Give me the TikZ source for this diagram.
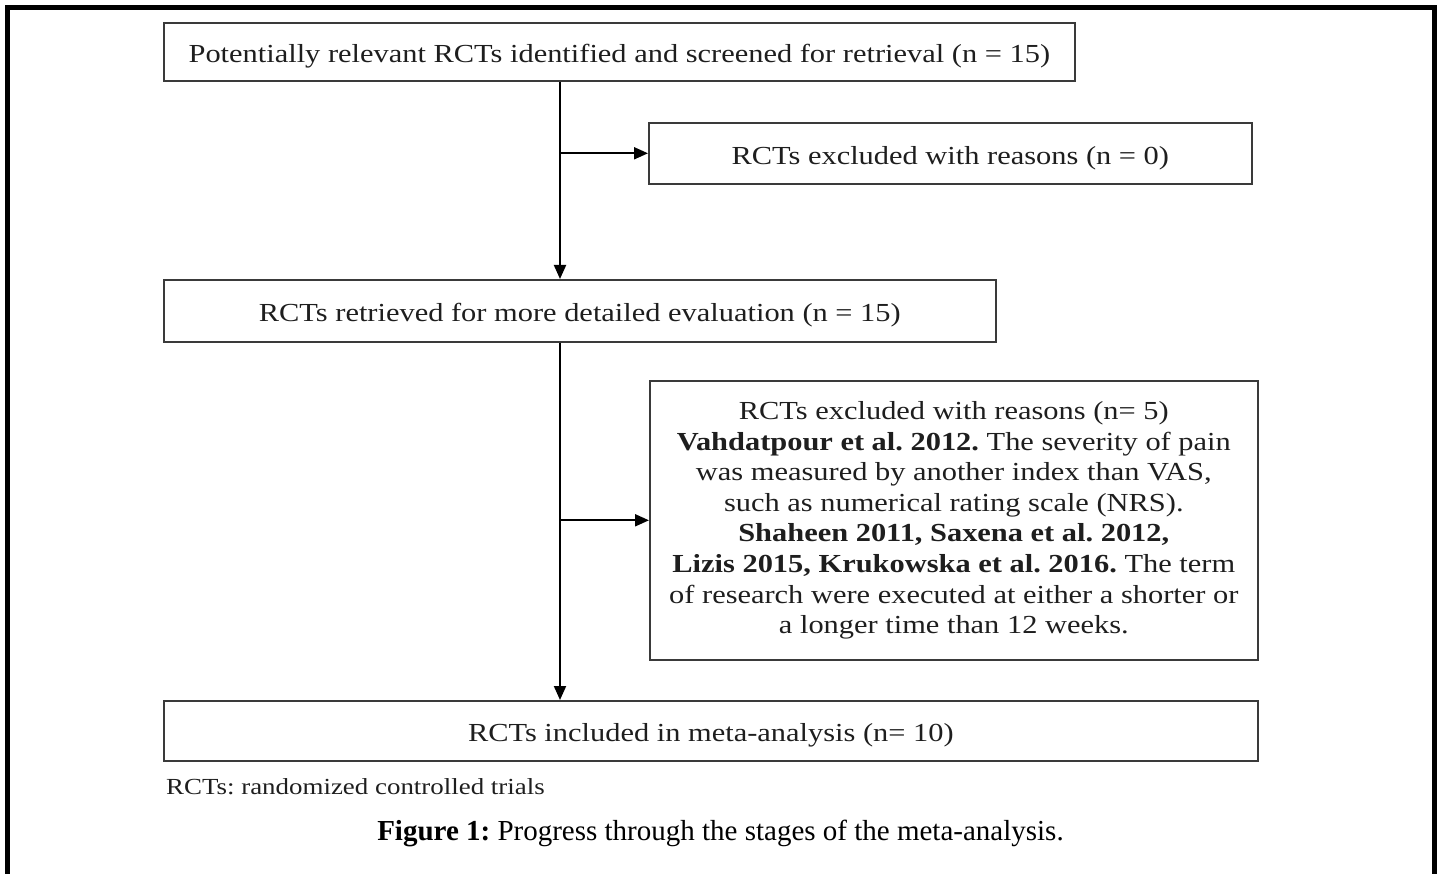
\documentclass[tikz,border=0pt]{standalone}
\usepackage{fontspec}
\setmainfont{Liberation Serif}
\newfontfamily\stagefont{Liberation Serif}[FakeStretch=1.17]
\usepackage{tikz}
\usetikzlibrary{positioning,arrows.meta}
\definecolor{flowline}{HTML}{3A3A3A}
\definecolor{flowink}{HTML}{1E1E1E}

\begin{document}
\frenchspacing
\begin{tikzpicture}[
    x=1pt, y=-1pt,
    >={Triangle[length=14pt,width=12pt]},
    stagebox/.style={draw=flowline, line width=1.6pt, anchor=north west, align=center,
        inner sep=0pt, text=flowink, font=\stagefont\fontsize{26}{30.6}\selectfont},
    linebox/.style={stagebox, text height=25pt, text depth=3pt},
    flow/.style={->, line width=2pt, draw=black}
]
\useasboundingbox (0,0) rectangle (1441,874);
% page frame, open at the bottom
\draw[line width=5pt] (7,874) -- (7,7.5) -- (1434.5,7.5) -- (1434.5,874);

\node[linebox, minimum width=911pt, minimum height=58pt] (screened) at (163,22)
  {Potentially relevant RCTs identified and screened for retrieval (n = 15)};
\node[linebox, minimum width=603pt, minimum height=61pt] (exclnone) at (648,122)
  {RCTs excluded with reasons (n = 0)};
\node[linebox, minimum width=832pt, minimum height=62pt] (retrieved) at (163,279)
  {RCTs retrieved for more detailed evaluation (n = 15)};
\node[stagebox, minimum width=608pt, minimum height=279pt] (exclfive) at (649,380) {%
  \rule{0pt}{4pt}RCTs excluded with reasons (n= 5)\\
  \textbf{Vahdatpour et al. 2012.} The severity of pain\\
  was measured by another index than VAS,\\
  such as numerical rating scale (NRS).\\
  \textbf{Shaheen 2011, Saxena et al. 2012,}\\
  \textbf{Lizis 2015, Krukowska et al. 2016.} The term\\
  of research were executed at either a shorter or\\
  a longer time than 12 weeks.};
\node[linebox, minimum width=1094pt, minimum height=60pt] (included) at (163,700)
  {RCTs included in meta-analysis (n= 10)};

\node[anchor=west, inner sep=0pt, text=flowink, font=\stagefont\fontsize{23}{26}\selectfont]
  (abbrev) at (166,787) {RCTs: randomized controlled trials};
\node[inner sep=0pt, font=\fontsize{29}{32}\selectfont]
  (caption) at (720.5,833) {\textbf{Figure 1:} Progress through the stages of the meta-analysis.};

% one trunk with two side exits
\coordinate (trunk) at (560,0);
\draw[flow] (screened.south -| trunk) -- (retrieved.north -| trunk);
\draw[flow] (retrieved.south -| trunk) -- (included.north -| trunk);
\draw[flow] (trunk |- exclnone.west) -- (exclnone.west);
\draw[flow] (trunk |- exclfive.west) -- (exclfive.west);
\end{tikzpicture}
\end{document}
